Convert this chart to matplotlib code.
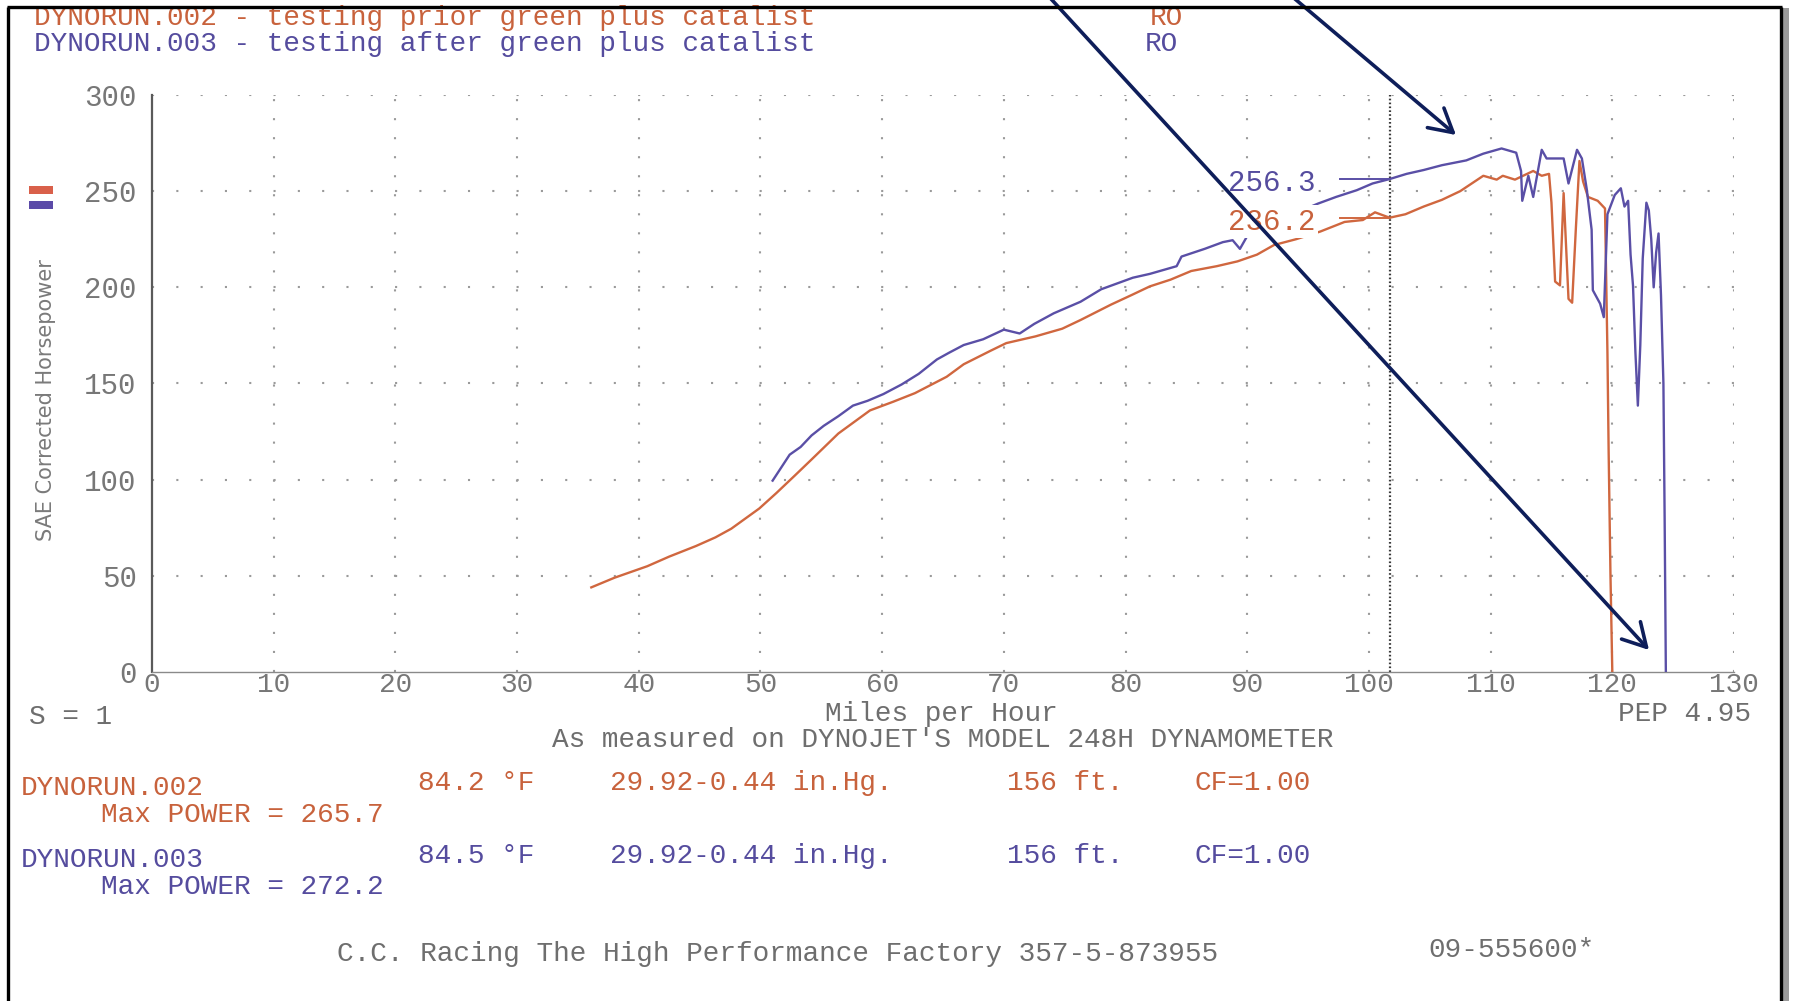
import matplotlib
matplotlib.use("Agg")
import matplotlib.pyplot as plt
from matplotlib.patches import FancyArrowPatch, Rectangle
from matplotlib.lines import Line2D

plt.rcParams['lines.scale_dashes'] = False

# ---------------- data ----------------
run002_mph = [36.1, 38.0, 40.7, 42.5, 44.7, 46.3, 47.6, 49.9, 51.3, 52.8, 54.2, 56.4, 59.0, 60.9,
              62.7, 65.3, 66.7, 68.9, 70.2, 72.6, 74.8, 76.3, 78.8, 80.5, 82.0, 83.7, 85.4, 87.5,
              89.2, 90.8, 92.2, 94.0, 96.0, 98.0, 99.5, 100.5, 101.7, 103.0, 104.5, 106.0, 107.5,
              109.4, 110.5, 111.0, 112.0, 113.0, 113.5, 114.2, 114.8, 115.0, 115.3, 115.7, 116.0,
              116.4, 116.7, 117.0, 117.3, 117.6, 118.0, 118.8, 119.4, 119.6, 119.7, 119.85, 120.0]
run002_hp = [44, 49, 55, 60, 65.5, 70, 74.5, 85, 93, 102, 110.5, 124, 136, 140.5,
             145, 153.5, 160, 167, 171, 174.5, 178.5, 183, 191, 196, 200.5, 204, 208.5, 211,
             213.5, 217, 222, 225, 229, 234, 235, 239, 236.2, 238, 242, 245.5, 250,
             258, 256, 258, 256, 259, 260.5, 258, 259, 244, 203, 201, 249,
             194, 192, 230, 265.7, 255, 247, 245, 241, 166, 114, 50, 0]

run003_mph = [51.0, 52.4, 53.3, 54.2, 55.2, 56.4, 57.6, 58.8, 60.1, 61.6, 63.0, 64.5, 65.5, 66.7,
              68.3, 70.0, 71.3, 72.5, 74.1, 76.3, 78.0, 80.6, 82.0, 84.2, 84.6, 86.5, 88.0, 88.8,
              89.4, 90.3, 92.5, 94.5, 95.8, 97.3, 99.0, 100.3, 101.7, 103.1, 104.5, 106.0, 108.0,
              109.4, 110.9, 112.1, 112.5, 112.6, 113.1, 113.5, 114.2, 114.6, 116.0, 116.4, 117.1,
              117.5, 117.9, 118.3, 118.4, 119.0, 119.3, 119.6, 120.2, 120.7, 121.0, 121.3, 121.5,
              121.7, 121.9, 122.1, 122.3, 122.5, 122.8, 123.0, 123.2, 123.4, 123.6, 123.8, 124.0,
              124.2, 124.3, 124.4]
run003_hp = [99.5, 113, 117, 123, 128, 133, 138.5, 141, 144.5, 149.5, 155, 162.5, 166, 170,
             173, 178, 176, 181, 186.5, 192.5, 199, 205, 207, 211, 216, 220, 223.5, 224.5,
             220, 230, 236, 240, 243.5, 247, 250.5, 254, 256.3, 259, 261, 263.5, 266,
             269.5, 272.2, 270, 260.5, 245, 258, 247, 271.5, 267, 267, 254, 271.5,
             267, 251, 230, 198.5, 191.5, 184.5, 238, 248, 251.5, 242, 245, 217,
             201, 166, 138.5, 170, 215, 244, 240, 225, 200, 218, 228, 196,
             150, 80, 0]

cursor_mph = 101.7
cursor_hp_002 = 236.2
cursor_hp_003 = 256.3

x_ticks = list(range(0, 131, 10))
y_ticks = list(range(0, 301, 50))

header_002 = "DYNORUN.002 - testing prior green plus catalist"
header_003 = "DYNORUN.003 - testing after green plus catalist"
run_fields_002 = ["DYNORUN.002", "84.2 °F", "29.92-0.44 in.Hg.", "156 ft.", "CF=1.00", "Max POWER = 265.7"]
run_fields_003 = ["DYNORUN.003", "84.5 °F", "29.92-0.44 in.Hg.", "156 ft.", "CF=1.00", "Max POWER = 272.2"]
footer_left = "C.C. Racing The High Performance Factory 357-5-873955"
footer_right = "09-555600*"

# ---------------- style ----------------
W, H = 1795, 1001
ORANGE = "#d0673f"
BLUE = "#5a4fa6"
ORANGE_T = "#c8623c"
BLUE_T = "#554c9e"
GRAY = "#6e6e6e"
NAVY = "#0e1e5a"
MONO = "Liberation Mono"
FS = 20


def fx(px):
    return px / W


def fy(py):
    return 1 - py / H


fig = plt.figure(figsize=(W / 100, H / 100), dpi=100)
fig.patch.set_facecolor("white")

ax = fig.add_axes([fx(152), fy(672), fx(1734) - fx(152), fy(95) - fy(672)])
ax.set_xlim(0, 130)
ax.set_ylim(0, 300)
ax.set_facecolor("white")
for s in ["top", "right"]:
    ax.spines[s].set_visible(False)
ax.spines["left"].set_color("#5a5a5a")
ax.spines["left"].set_linewidth(1.6)
ax.spines["bottom"].set_color("#8a8a8a")
ax.spines["bottom"].set_linewidth(1.0)

ax.set_xticks(x_ticks)
ax.set_yticks(y_ticks)
ax.set_xticklabels([str(v) for v in x_ticks], fontfamily=MONO, fontsize=FS, color="#777777")
ax.set_yticklabels([str(v) for v in y_ticks], fontfamily=MONO, fontsize=21, color="#777777")
ax.tick_params(axis="x", length=0, pad=0)
ax.tick_params(axis="y", length=0, pad=11)

# dotted grid
for yv in y_ticks[1:]:
    ax.axhline(yv, color="#9a9a9a", lw=1.5, ls=(0, (1.5, 16)), zorder=1)
for xv in x_ticks[1:]:
    ax.axvline(xv, color="#9a9a9a", lw=1.5, ls=(0, (1.5, 12.2)), zorder=1)
ax.axvline(cursor_mph, color="#3a3a3a", lw=1.6, ls=(0, (1.2, 1.6)), zorder=2)

# curves
ax.plot(run002_mph, run002_hp, color=ORANGE, lw=1.7, zorder=3)
ax.plot(run003_mph, run003_hp, color=BLUE, lw=1.7, zorder=3)

# cursor value labels
ax.text(88.4, cursor_hp_003 - 2, f"{cursor_hp_003:.1f}", color=BLUE_T, fontsize=21, family=MONO,
        ha="left", va="center", zorder=5,
        bbox=dict(fc="white", ec="none", pad=2))
ax.plot([97.6, cursor_mph], [cursor_hp_003, cursor_hp_003], color=BLUE, lw=1.4, zorder=6)
ax.text(88.4, cursor_hp_002 - 2, f"{cursor_hp_002:.1f}", color=ORANGE_T, fontsize=21, family=MONO,
        ha="left", va="center", zorder=5,
        bbox=dict(fc="white", ec="none", pad=2))
ax.plot([97.6, cursor_mph], [cursor_hp_002, cursor_hp_002], color=ORANGE, lw=1.4, zorder=6)

# ---------------- figure texts ----------------
def ftext(x, y, s, color=GRAY, size=FS, family=MONO, **kw):
    fig.text(fx(x), fy(y), s, color=color, fontsize=size, family=family, va="baseline", **kw)


ftext(34, 25, header_002, ORANGE_T)
ftext(1150, 25, "RO", ORANGE_T)
ftext(34, 51, header_003, BLUE_T)
ftext(1145, 51, "RO", BLUE_T)

# legend swatches
fig.add_artist(Rectangle((fx(29), fy(194)), fx(53) - fx(29), fy(186) - fy(194),
                         transform=fig.transFigure, fc="#d9604a", ec="none"))
fig.add_artist(Rectangle((fx(29), fy(209)), fx(53) - fx(29), fy(201) - fy(209),
                         transform=fig.transFigure, fc="#5b4aa8", ec="none"))

fig.text(fx(46), fy(400), "SAE Corrected Horsepower", rotation=90, ha="center", va="center",
         color="#7a7a7a", fontsize=15, family="DejaVu Sans")

ftext(29, 724, "S = 1")
ftext(941, 721, "Miles per Hour", ha="center")
ftext(1618, 721, "PEP 4.95")
ftext(943, 747, "As measured on DYNOJET'S MODEL 248H DYNAMOMETER", ha="center")

xs_fields = [21, 418, 610, 1007, 1194]
for fields, color, y_name, y_vals, y_max in [
        (run_fields_002, ORANGE_T, 795, 790, 822),
        (run_fields_003, BLUE_T, 867, 863, 894)]:
    ftext(xs_fields[0], y_name, fields[0], color)
    for xf, f in zip(xs_fields[1:], fields[1:5]):
        ftext(xf, y_vals, f, color)
    ftext(101, y_max, fields[5], color)

ftext(778, 961, footer_left, ha="center")
ftext(1512, 957, footer_right, ha="center")

# ---------------- overlay arrows ----------------
arrow_style = "->,head_length=0.75,head_width=0.42"
for p0, p1 in [((1282, -12), (1456, 135)), ((1041, -12), (1649, 650))]:
    fig.add_artist(FancyArrowPatch((fx(p0[0]), fy(p0[1])), (fx(p1[0]), fy(p1[1])),
                                   transform=fig.transFigure, arrowstyle=arrow_style,
                                   mutation_scale=22, color=NAVY, lw=2.6,
                                   shrinkA=0, shrinkB=0, zorder=20))

# ---------------- page border ----------------
fig.add_artist(Rectangle((fx(1782), 0), fx(W) - fx(1782), 1, transform=fig.transFigure,
                         fc="white", ec="none", zorder=25))
fig.add_artist(Rectangle((fx(1783), 0), fx(1789) - fx(1783), fy(8), transform=fig.transFigure,
                         fc="#9a9a9a", ec="none", zorder=26))
for (xa, ya), (xb, yb) in [((7, 7), (1782, 7)), ((8, 7), (8, H + 5)), ((1781, 7), (1781, H + 5))]:
    fig.add_artist(Line2D([fx(xa), fx(xb)], [fy(ya), fy(yb)], transform=fig.transFigure,
                          color="black", lw=2.4, zorder=27, solid_capstyle="butt"))

fig.savefig("out.png", dpi=100, facecolor="white")
